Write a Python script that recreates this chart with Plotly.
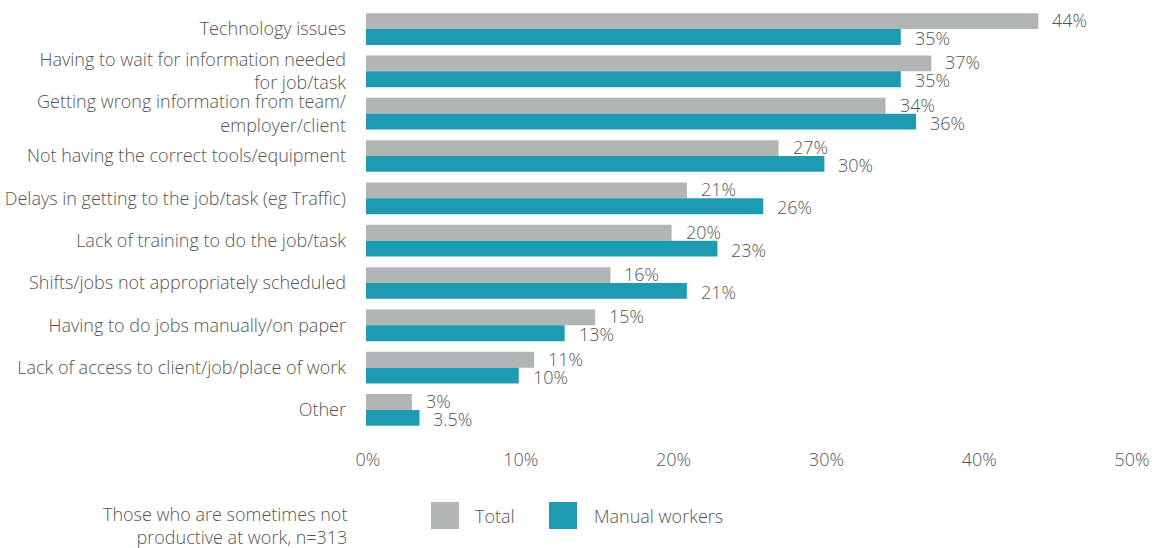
import plotly.graph_objects as go

categories = [
    "Technology issues",
    "Having to wait for information needed<br>for job/task",
    "Getting wrong information from team/<br>employer/client",
    "Not having the correct tools/equipment",
    "Delays in getting to the job/task (eg Traffic)",
    "Lack of training to do the job/task",
    "Shifts/jobs not appropriately scheduled",
    "Having to do jobs manually/on paper",
    "Lack of access to client/job/place of work",
    "Other",
]
total = [44, 37, 34, 27, 21, 20, 16, 15, 11, 3]
manual = [35, 35, 36, 30, 26, 23, 21, 13, 10, 3.5]
tick_vals = [0, 10, 20, 30, 40, 50]
tick_text = ["0%", "10%", "20%", "30%", "40%", "50%"]

GRAY = "#B2B5B6"
TEAL = "#1F9BB1"
TXT = "#555555"
FONT = "Open Sans"
FS = 18
FW = 300

W, H = 1156, 548
L, R, T, B = 366, 26, 6, 115
pw = W - L - R
ph = H - T - B

def px(x):
    return (x - L) / pw

def py(y):
    return (H - B - y) / ph

def f(size=FS):
    return dict(family=FONT, size=size, color=TXT, weight=FW)

fig = go.Figure()
fig.add_trace(go.Bar(
    name="Total", y=categories, x=total, orientation="h",
    marker=dict(color=GRAY, line=dict(width=0)), hoverinfo="x+y",
))
fig.add_trace(go.Bar(
    name="Manual workers", y=categories, x=manual, orientation="h",
    marker=dict(color=TEAL, line=dict(width=0)), hoverinfo="x+y",
))

def fmt(v):
    return (f"{v:g}") + "%"

for cat, v in zip(categories, total):
    fig.add_annotation(x=v, y=cat, text=fmt(v), showarrow=False,
                       xanchor="left", yanchor="middle", xshift=12, yshift=9,
                       font=f())
for cat, v in zip(categories, manual):
    fig.add_annotation(x=v, y=cat, text=fmt(v), showarrow=False,
                       xanchor="left", yanchor="middle", xshift=12, yshift=-9,
                       font=f())

fig.update_layout(
    width=W, height=H, autosize=False,
    margin=dict(l=L, r=R, t=T, b=B, pad=0),
    barmode="group", bargap=0.25, bargroupgap=0,
    plot_bgcolor="white", paper_bgcolor="white",
    showlegend=False,
    font=f(),
)
fig.update_xaxes(
    range=[0, 50], tickvals=tick_vals, ticktext=tick_text,
    showgrid=False, zeroline=False, showline=False,
    ticks="", ticklabelstandoff=14, ticklabelshift=2,
    tickfont=f(), automargin=False,
)
fig.update_yaxes(
    autorange="reversed", showgrid=False, zeroline=False, showline=False,
    ticks="", ticklabelstandoff=19,
    tickfont=f(), automargin=False,
)

# legend drawn manually
fig.add_shape(type="rect", xref="paper", yref="paper",
              x0=px(431), x1=px(459), y0=py(529), y1=py(502),
              fillcolor=GRAY, line=dict(width=0))
fig.add_shape(type="rect", xref="paper", yref="paper",
              x0=px(549), x1=px(577), y0=py(529), y1=py(502),
              fillcolor=TEAL, line=dict(width=0))
fig.add_annotation(xref="paper", yref="paper", x=px(473), y=py(516),
                   text="Total", showarrow=False, xanchor="left", yanchor="middle",
                   font=f())
fig.add_annotation(xref="paper", yref="paper", x=px(592), y=py(516),
                   text="Manual workers", showarrow=False, xanchor="left", yanchor="middle",
                   font=f())
fig.add_annotation(xref="paper", yref="paper", x=px(349), y=py(525),
                   text="Those who are sometimes not<br>productive at work, n=313",
                   showarrow=False, xanchor="right", yanchor="middle", align="right",
                   font=f())

fig.write_html("out.html")
